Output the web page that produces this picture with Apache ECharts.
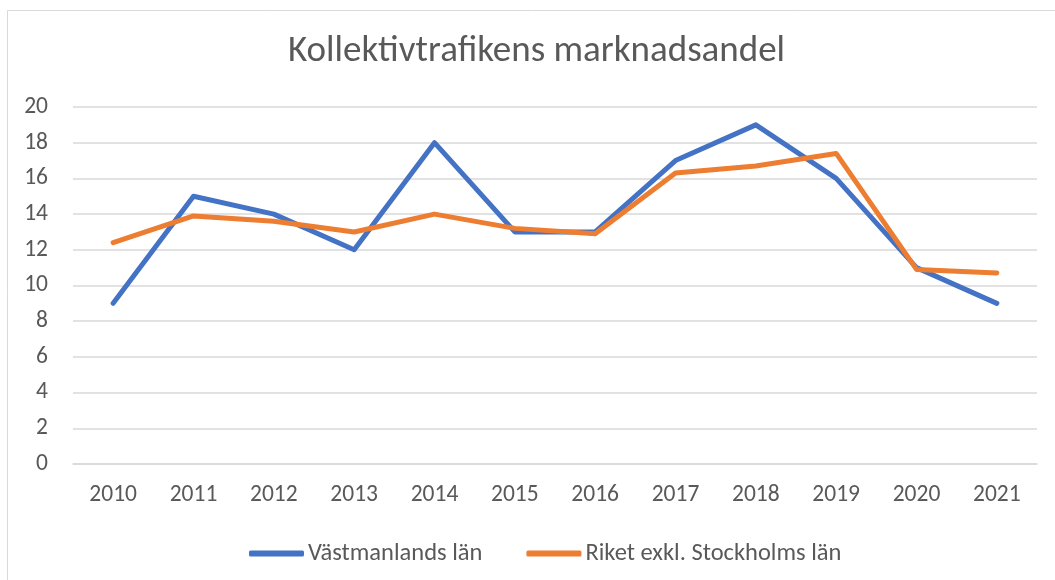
<!DOCTYPE html>
<html>
<head>
<meta charset="utf-8">
<script src="https://cdn.jsdelivr.net/npm/echarts@6/dist/echarts.min.js"></script>
<style>
html,body{margin:0;padding:0;background:#fff;}
#chart{width:1055px;height:580px;}
</style>
</head>
<body>
<div id="chart"></div>
<script>
const title = 'Kollektivtrafikens marknadsandel';
const years = ['2010','2011','2012','2013','2014','2015','2016','2017','2018','2019','2020','2021'];
const vastmanland = [9, 15, 14, 12, 18, 13, 13, 17, 19, 16, 11, 9];
const riket = [12.4, 13.9, 13.6, 13.0, 14.0, 13.2, 12.9, 16.3, 16.7, 17.4, 10.9, 10.7];
const seriesNames = ['Västmanlands län', 'Riket exkl. Stockholms län'];

const font = "'Carlito','Liberation Sans Narrow','Open Sans',sans-serif";
const chart = echarts.init(document.getElementById('chart'));
chart.setOption({
  animation: false,
  backgroundColor: '#fff',
  graphic: [{
    type: 'rect', left: 5, top: 8,
    shape: {width: 1048, height: 575},
    style: {fill: 'none', stroke: '#d9d9d9', lineWidth: 1}, silent: true
  }],
  title: {
    text: title, left: 283, top: 28,
    textStyle: {fontFamily: font, fontSize: 37, fontWeight: 'normal', color: '#595959'}
  },
  legend: {
    top: 536, left: 244, itemGap: 44,
    itemWidth: 55, itemHeight: 6, icon: 'roundRect',
    textStyle: {fontFamily: font, fontSize: 24.5, color: '#595959', padding: [0,0,0,-1]},
    data: seriesNames
  },
  grid: {left: 73, right: 18, top: 107, bottom: 116, containLabel: false},
  xAxis: {
    type: 'category', data: years, boundaryGap: true,
    axisLine: {show: true, lineStyle: {color: '#d9d9d9', width: 1.5}},
    axisTick: {show: false},
    axisLabel: {fontFamily: font, fontSize: 23.5, color: '#595959', margin: 19}
  },
  yAxis: {
    type: 'value', min: 0, max: 20, interval: 2,
    axisLine: {show: false}, axisTick: {show: false},
    splitLine: {lineStyle: {color: '#d9d9d9', width: 1.5}},
    axisLabel: {fontFamily: font, fontSize: 23.5, color: '#595959', margin: 25}
  },
  series: [
    {name: seriesNames[0], type: 'line', data: vastmanland, symbol: 'none',
     lineStyle: {color: '#4472C4', width: 5, cap: 'round', join: 'round'}, itemStyle: {color: '#4472C4'}},
    {name: seriesNames[1], type: 'line', data: riket, symbol: 'none',
     lineStyle: {color: '#ED7D31', width: 5, cap: 'round', join: 'round'}, itemStyle: {color: '#ED7D31'}}
  ]
});
</script>
</body>
</html>
